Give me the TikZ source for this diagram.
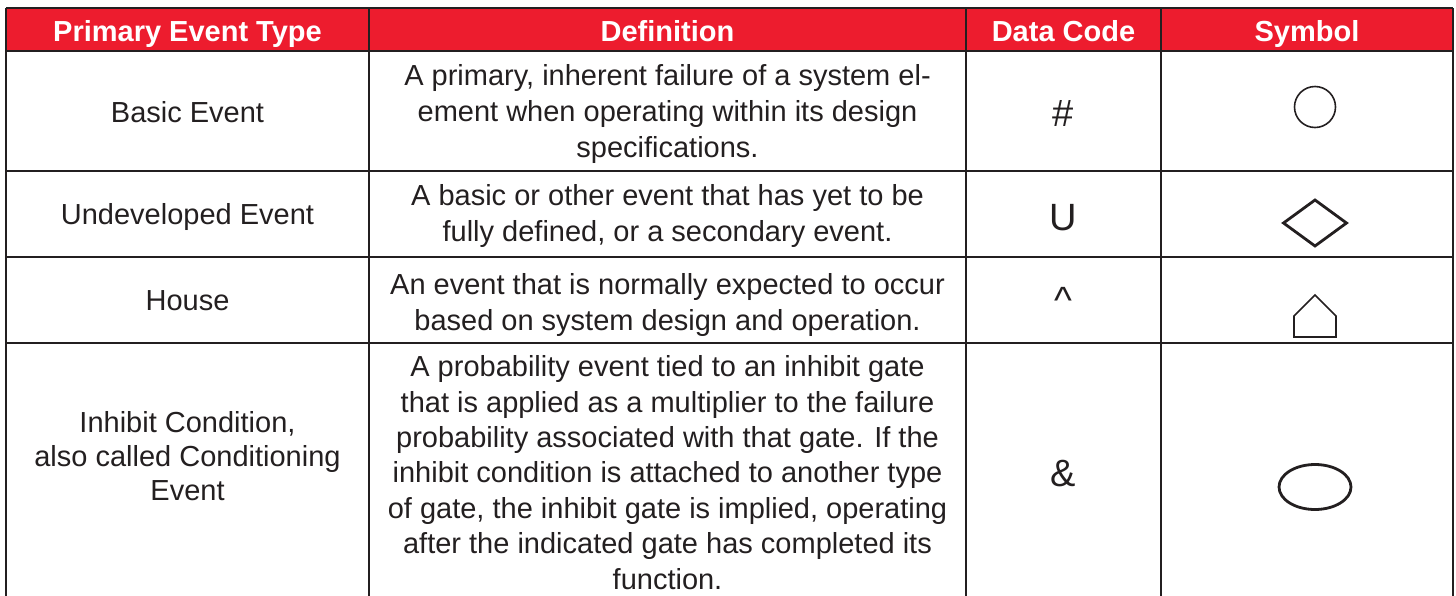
\documentclass[tikz,border=0pt]{standalone}
\usepackage{fontspec}
\setmainfont{Liberation Sans}
\usetikzlibrary{shapes.geometric}
\definecolor{hdrred}{HTML}{ED1C2E}
\definecolor{ink}{HTML}{231F20}
\begin{document}
\begin{tikzpicture}[x=1pt,y=-1pt,
  hdr/.style={text=white, font=\fontsize{29}{34}\selectfont\bfseries, anchor=base, inner sep=0pt},
  cell/.style={text=ink, font=\fontsize{29}{36}\selectfont, align=center, anchor=base, inner sep=0pt},
  code/.style={text=ink, font=\fontsize{38}{40}\selectfont, anchor=base, inner sep=0pt},
  rulel/.style={draw=ink, line width=2pt},
  thinsym/.style={draw=ink, line width=1.6pt, inner sep=0pt, outer sep=0pt},
  thicksym/.style={draw=ink, line width=2.8pt, inner sep=0pt, outer sep=0pt}]
\useasboundingbox (0,0) rectangle (1456,595);

% header band
\fill[hdrred] (6,8) rectangle (1453,51);

% grid lines
\draw[rulel] (6,8) -- (1453,8);
\foreach \yy in {51,171,257,343} \draw[rulel] (6,\yy) -- (1453,\yy);
\foreach \xx in {6,369,966,1161,1453} \draw[rulel] (\xx,8) -- (\xx,600);

% header texts
\node[hdr] (h1) at (187.5,41) {Primary Event Type};
\node[hdr] (h2) at (667.5,41) {Definition};
\node[hdr] (h3) at (1063.5,41) {Data Code};
\node[hdr] (h4) at (1307,41) {Symbol};

% first column (base anchor = last line's baseline)
\node[cell] (t1) at (187.5,122.5) {Basic Event};
\node[cell] (t2) at (187.5,224.5) {Undeveloped Event};
\node[cell] (t3) at (187.5,310.5) {House};
\node[cell, font=\fontsize{29}{34}\selectfont] (t4) at (187.5,500) {Inhibit Condition,\\also called Conditioning\\Event};

% definitions
\node[cell] (d1) at (667.5,157) {A primary, inherent failure of a system el-\\ement when operating within its design\\specifications.};
\node[cell] (d2) at (667.5,241) {A basic or other event that has yet to be\\fully defined, or a secondary event.};
\node[cell] (d3) at (667.5,330) {An event that is normally expected to occur\\based on system design and operation.};
\node[cell, font=\fontsize{29}{35.4}\selectfont] (d4) at (667.5,589) {A probability event tied to an inhibit gate\\that is applied as a multiplier to the failure\\probability associated with that gate. If the\\inhibit condition is attached to another type\\of gate, the inhibit gate is implied, operating\\after the indicated gate has completed its\\function.};

% data codes
\node[code] (c1) at (1063.5,126) {\#};
\node[code] (c2) at (1063.5,230) {U};
\node[code] (c3) at (1063.5,313) {\textasciicircum};
\node[code] (c4) at (1063.5,486) {\&};

% symbols
\node[thinsym, circle, minimum size=41pt] (s1) at (1315,107) {};
\node[thicksym, diamond, minimum width=63pt, minimum height=46pt] (s2) at (1315,223) {};
\coordinate (s3) at (1315,316);
\draw[thinsym, line join=miter] ([shift={(-21,21)}]s3) -- ([shift={(-21,0)}]s3) -- ([shift={(0,-21)}]s3) -- ([shift={(21,0)}]s3) -- ([shift={(21,21)}]s3) -- cycle;
\node[thicksym, ellipse, minimum width=72pt, minimum height=45pt] (s4) at (1315,487) {};
\end{tikzpicture}
\end{document}
